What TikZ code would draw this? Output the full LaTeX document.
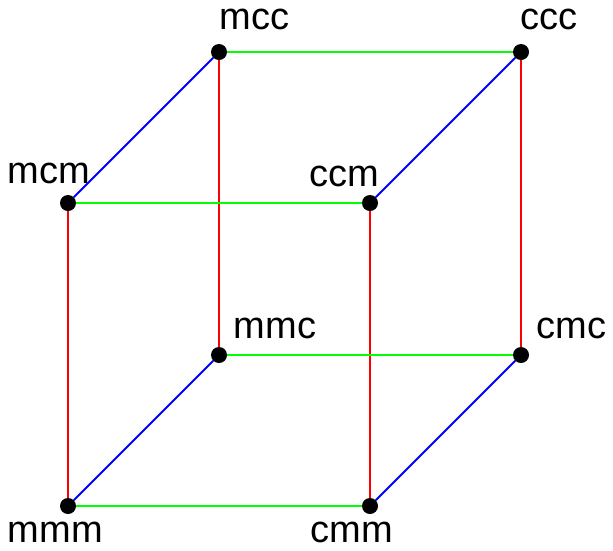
\documentclass[tikz,border=0pt]{standalone}
\usepackage{fontspec}
\setmainfont{Liberation Sans}
\usetikzlibrary{positioning}
\begin{document}
\begin{tikzpicture}[x=1pt,y=-1pt,
  vertex/.style={circle, fill=black, inner sep=0pt, minimum size=16pt},
  lbl/.style={anchor=base west, inner sep=0pt, font=\fontsize{38}{40}\selectfont},
  vedge/.style={draw=red, line width=2pt},
  hedge/.style={draw=green, line width=2pt},
  dedge/.style={draw=blue, line width=2pt}
]
  \useasboundingbox (0,0) rectangle (613,550);

  \node[vertex] (mmm) at (68,506) {};
  \node[vertex] (cmm) at (370,506) {};
  \node[vertex] (mcm) at (68,203) {};
  \node[vertex] (ccm) at (370,203) {};
  \node[vertex] (mmc) at (219,355) {};
  \node[vertex] (cmc) at (521,355) {};
  \node[vertex] (mcc) at (219,52) {};
  \node[vertex] (ccc) at (521,52) {};

  \node[lbl] (lmcc) at (219.5,29) {mcc};
  \node[lbl] (lccc) at (520.5,29) {ccc};
  \node[lbl] (lmcm) at (7.5,183) {mcm};
  \node[lbl] (lccm) at (309.5,186) {ccm};
  \node[lbl] (lmmc) at (233.5,338) {mmc};
  \node[lbl] (lcmc) at (536.5,338) {cmc};
  \node[lbl] (lmmm) at (7.5,542) {mmm};
  \node[lbl] (lcmm) at (310.5,542) {cmm};

  % vertical edges
  \draw[vedge] (mmm) -- (mcm);
  \draw[vedge] (cmm) -- (ccm);
  \draw[vedge] (mmc) -- (mcc);
  \draw[vedge] (cmc) -- (ccc);
  % horizontal edges
  \draw[hedge] (mmm) -- (cmm);
  \draw[hedge] (mcm) -- (ccm);
  \draw[hedge] (mmc) -- (cmc);
  \draw[hedge] (mcc) -- (ccc);
  % depth edges
  \draw[dedge] (mmm) -- (mmc);
  \draw[dedge] (cmm) -- (cmc);
  \draw[dedge] (mcm) -- (mcc);
  \draw[dedge] (ccm) -- (ccc);
\end{tikzpicture}
\end{document}
